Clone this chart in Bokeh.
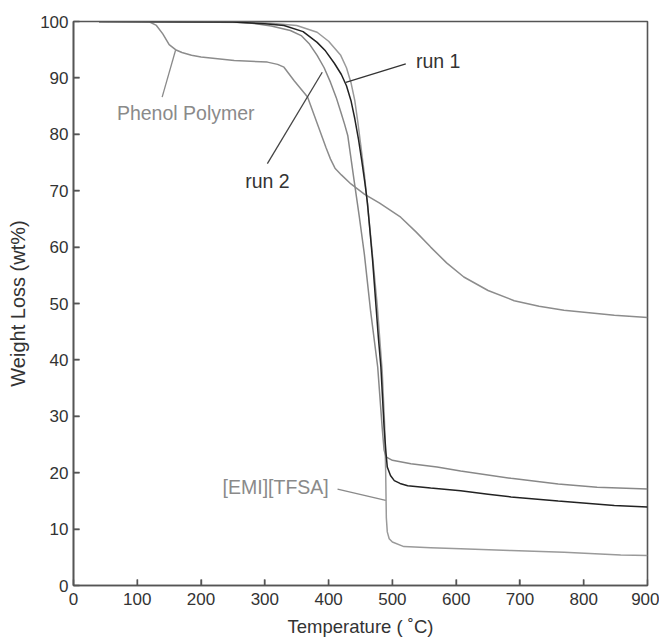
from bokeh.plotting import figure
from bokeh.models import ColumnDataSource, FixedTicker
from bokeh.core.properties import value
from bokeh.embed import file_html
from bokeh.resources import INLINE

# ---- data ----
temp_run1 = [40, 250, 300, 330, 360, 382, 395, 409, 420, 428, 435, 441, 447, 452, 457, 461, 469, 474, 478, 482, 487, 490, 492, 497, 503, 512, 524, 560, 607, 650, 686, 760, 848, 900]
wt_run1 = [100, 99.9, 99.6, 99.3, 98.2, 96.3, 94.8, 92.6, 90.6, 88.6, 86.0, 82.8, 79.0, 75.3, 71.3, 67.7, 57.6, 50.0, 44.0, 38.7, 28.0, 23.5, 21.0, 19.5, 18.6, 18.1, 17.7, 17.3, 16.8, 16.2, 15.7, 15.0, 14.2, 13.9]

temp_run2 = [40, 250, 280, 310, 340, 357, 370, 382, 393, 403, 412, 419, 425, 430, 440, 448, 456, 466, 477, 484, 487, 490, 500, 529, 570, 607, 686, 760, 821, 900]
wt_run2 = [100, 99.9, 99.7, 99.2, 98.4, 97.5, 96.0, 94.0, 91.8, 89.2, 86.5, 84.0, 81.8, 79.8, 71.8, 65.5, 58.8, 48.5, 38.7, 28.0, 24.0, 22.8, 22.2, 21.6, 21.0, 20.3, 19.0, 18.0, 17.4, 17.1]

temp_emi = [40, 300, 350, 382, 400, 419, 428, 435, 441, 446, 451, 456, 465, 476, 484, 488, 489.5, 490.5, 492, 495, 500, 518, 560, 607, 686, 769, 858, 900]
wt_emi = [100, 99.8, 99.3, 98.1, 96.5, 94.0, 91.8, 89.2, 86.0, 82.0, 77.5, 73.0, 63.0, 50.0, 38.0, 28.0, 20.0, 12.0, 9.5, 8.3, 7.7, 6.9, 6.7, 6.5, 6.2, 5.9, 5.4, 5.3]

temp_phenol = [40, 118, 130, 140, 150, 160, 170, 185, 200, 252, 304, 320, 330, 346, 367, 388, 396, 403, 410, 420, 435, 456, 480, 513, 537, 560, 585, 612, 650, 691, 730, 769, 848, 900]
wt_phenol = [100, 100, 99.3, 97.8, 95.9, 95.0, 94.5, 94.0, 93.7, 93.1, 92.8, 92.4, 91.9, 89.5, 86.6, 80.1, 77.6, 75.6, 74.0, 72.8, 71.2, 69.4, 67.8, 65.3, 62.7, 60.0, 57.2, 54.7, 52.3, 50.5, 49.5, 48.8, 47.9, 47.5]

x_ticks = [0, 100, 200, 300, 400, 500, 600, 700, 800, 900]
y_ticks = [0, 10, 20, 30, 40, 50, 60, 70, 80, 90, 100]

label_texts = ["Phenol Polymer", "run 2", "run 1", "[EMI][TFSA]"]
label_x = [176, 304, 537, 317]
label_y = [83.7, 71.8, 93.0, 17.4]
label_align = ["center", "center", "left", "center"]
label_colors = ["#8a8a8a", "#333333", "#333333", "#8a8a8a"]

ptr_x0 = [139, 304, 521, 414]
ptr_y0 = [86.6, 74.8, 92.5, 17.1]
ptr_x1 = [160, 390, 427, 489.6]
ptr_y1 = [94.9, 91.0, 89.2, 15.1]
ptr_colors = ["#8a8a8a", "#444444", "#333333", "#8a8a8a"]

FONT = "Liberation Sans"
X_MIN, X_MAX, Y_MIN, Y_MAX = 0, 900, 0, 100
TICK_LEN_X = 9.5   # inward tick length of y-axis ticks, in x data units (~6 px)
TICK_LEN_Y = 1.05  # inward tick length of x-axis ticks, in y data units (~6 px)

p = figure(width=659, height=643, x_range=(X_MIN, X_MAX), y_range=(Y_MIN, Y_MAX),
           output_backend="svg", toolbar_location=None,
           min_border_left=73, min_border_right=12, min_border_top=21, min_border_bottom=58,
           x_axis_label="Temperature ( \u02daC)", y_axis_label="Weight Loss (wt%)")

p.xgrid.visible = False
p.ygrid.visible = False
p.background_fill_color = "white"
p.border_fill_color = "white"
p.outline_line_color = "#555555"
p.outline_line_width = 1.6

for ax in (p.xaxis[0], p.yaxis[0]):
    ax.axis_line_color = "#555555"
    ax.axis_line_width = 1.6
    ax.major_tick_line_color = "#555555"
    ax.major_tick_line_width = 1.4
    ax.major_tick_in = 6
    ax.major_tick_out = 0
    ax.minor_tick_line_color = None
    ax.major_label_text_font = FONT
    ax.major_label_text_font_size = "17px"
    ax.major_label_text_color = "#333333"
    ax.axis_label_text_font = FONT
    ax.axis_label_text_font_style = "normal"
    ax.axis_label_text_color = "#333333"

p.xaxis.axis_label_text_font_size = "18.5px"
p.yaxis.axis_label_text_font_size = "20px"
p.xaxis.ticker = FixedTicker(ticks=x_ticks)
p.yaxis.ticker = FixedTicker(ticks=y_ticks)
p.xaxis.major_label_standoff = 7
p.xaxis.axis_label_standoff = 8
p.yaxis.major_label_standoff = 5
p.yaxis.axis_label_standoff = 8

# inward tick marks (drawn from the tick arrays, inside the frame)
xt = x_ticks[1:-1]
yt = y_ticks[1:-1]
p.segment(x0=xt, y0=[Y_MIN] * len(xt), x1=xt, y1=[Y_MIN + TICK_LEN_Y] * len(xt),
          line_color="#555555", line_width=1.4)
p.segment(x0=[X_MIN] * len(yt), y0=yt, x1=[X_MIN + TICK_LEN_X] * len(yt), y1=yt,
          line_color="#555555", line_width=1.4)

p.line(temp_phenol, wt_phenol, line_color="#8c8c8c", line_width=1.5)
p.line(temp_emi, wt_emi, line_color="#9a9a9a", line_width=1.5)
p.line(temp_run2, wt_run2, line_color="#888888", line_width=1.5)
p.line(temp_run1, wt_run1, line_color="#222222", line_width=1.5)

ptr_src = ColumnDataSource(dict(x0=ptr_x0, y0=ptr_y0, x1=ptr_x1, y1=ptr_y1, c=ptr_colors))
p.segment(x0="x0", y0="y0", x1="x1", y1="y1", line_color="c", line_width=1.3, source=ptr_src)

lab_src = ColumnDataSource(dict(x=label_x, y=label_y, t=label_texts, a=label_align, c=label_colors))
p.text(x="x", y="y", text="t", text_align="a", text_baseline="middle", text_color="c",
       text_font=value(FONT), text_font_size=value("19.5px"), source=lab_src)

open("out.html", "w").write(file_html(p, INLINE))
